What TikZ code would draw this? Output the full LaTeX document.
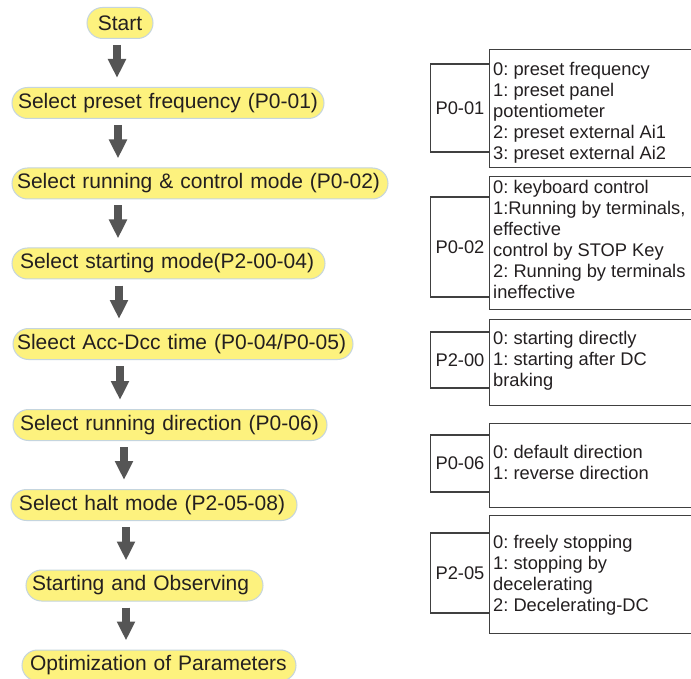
\documentclass[tikz,border=0pt]{standalone}
\usepackage{fontspec}
\setmainfont{Liberation Sans}
\usetikzlibrary{arrows.meta}
\frenchspacing
\definecolor{pillfill}{HTML}{FDF27E}
\definecolor{pillline}{HTML}{C5D5DE}
\definecolor{arrowgray}{HTML}{555555}
\definecolor{ink}{HTML}{231F20}
\definecolor{boxline}{HTML}{404040}
\tikzset{
  pill/.style={rectangle, rounded corners=15.5pt, fill=pillfill, draw=pillline, line width=1pt,
    minimum height=31pt, inner xsep=6pt, inner ysep=0pt, align=left, text=ink,
    font=\fontsize{21pt}{24pt}\selectfont},
  bigarrow/.style={draw=arrowgray, line width=8pt, shorten <=6pt, shorten >=9pt,
    -{Triangle[width=17pt,length=19pt]}},
  codebox/.style={rectangle, draw=boxline, line width=1.2pt, minimum width=59pt, inner sep=0pt,
    text=ink, font=\fontsize{18.3pt}{21pt}\selectfont},
  listbox/.style={rectangle, draw=boxline, line width=1.2pt, anchor=north west,
    minimum width=212pt, inner sep=0pt},
  listtext/.style={anchor=north west, inner sep=0pt, align=left, text=ink,
    font=\fontsize{18.3pt}{21pt}\selectfont},
}
\begin{document}
\begin{tikzpicture}[x=1pt, y=-1pt]
\clip (0,0) rectangle (691,679);
\fill[white] (0,0) rectangle (691,679);
% flow
\node[pill, align=center, minimum width=66pt] (n1) at (120,23) {Start};
\node[pill, text width=300pt] (n2) at (168,103) {Select preset frequency (P0-01)};
\node[pill, inner xsep=5pt, text width=366pt] (n3) at (200,183.5) {Select running \& control mode (P0-02)};
\node[pill, inner xsep=8pt, text width=297pt] (n4) at (168.5,263.5) {Select starting mode(P2-00-04)};
\node[pill, inner xsep=4pt, text width=332pt] (n5) at (183,344) {Sleect Acc-Dcc time (P0-04/P0-05)};
\node[pill, inner xsep=7pt, text width=300pt] (n6) at (170,425) {Select running direction (P0-06)};
\node[pill, inner xsep=8pt, text width=270pt] (n7) at (154,505) {Select halt mode (P2-05-08)};
\node[pill, text width=225pt] (n8) at (144.5,585.5) {Starting and Observing};
\node[pill, inner xsep=8pt, text width=258pt] (n9) at (159,665.5) {Optimization of Parameters};
\coordinate (a1) at (117,0);
\coordinate (a2) at (118,0);
\coordinate (a3) at (118,0);
\coordinate (a4) at (119,0);
\coordinate (a5) at (120,0);
\coordinate (a6) at (124,0);
\coordinate (a7) at (126,0);
\coordinate (a8) at (126,0);
\draw[bigarrow] (n1.south -| a1) -- (n2.north -| a1);
\draw[bigarrow] (n2.south -| a2) -- (n3.north -| a2);
\draw[bigarrow] (n3.south -| a3) -- (n4.north -| a3);
\draw[bigarrow] (n4.south -| a4) -- (n5.north -| a4);
\draw[bigarrow] (n5.south -| a5) -- (n6.north -| a5);
\draw[bigarrow] (n6.south -| a6) -- (n7.north -| a6);
\draw[bigarrow] (n7.south -| a7) -- (n8.north -| a7);
\draw[bigarrow] (n8.south -| a8) -- (n9.north -| a8);
% parameter boxes
\node[codebox, minimum height=88pt] (c1) at (460,108) {P0-01};
\node[listbox, minimum height=118pt] (l1) at (489,49) {};
\node[listtext] (t1) at (493,60.6) {\strut 0: preset frequency\\1: preset panel\\potentiometer\\2: preset external Ai1\\3: preset external Ai2};
\node[codebox, minimum height=100pt] (c2) at (460,247) {P0-02};
\node[listbox, minimum height=133pt] (l2) at (489,176) {};
\node[listtext] (t2) at (493,178.6) {\strut 0: keyboard control\\1:Running by terminals,\\effective\\control by STOP Key\\2: Running by terminals\\ineffective};
\node[codebox, minimum height=56pt] (c3) at (460,360) {P2-00};
\node[listbox, minimum height=86pt] (l3) at (489,319) {};
\node[listtext] (t3) at (493,329.6) {\strut 0: starting directly\\1: starting after DC\\braking};
\node[codebox, minimum height=57pt] (c4) at (460,463.5) {P0-06};
\node[listbox, minimum height=84pt] (l4) at (489,423) {};
\node[listtext] (t4) at (493,443.6) {\strut 0: default direction\\1: reverse direction};
\node[codebox, minimum height=80pt] (c5) at (460,573) {P2-05};
\node[listbox, minimum height=118pt] (l5) at (489,515) {};
\node[listtext] (t5) at (493,533.6) {\strut 0: freely stopping\\1: stopping by\\decelerating\\2: Decelerating-DC};
\end{tikzpicture}
\end{document}
